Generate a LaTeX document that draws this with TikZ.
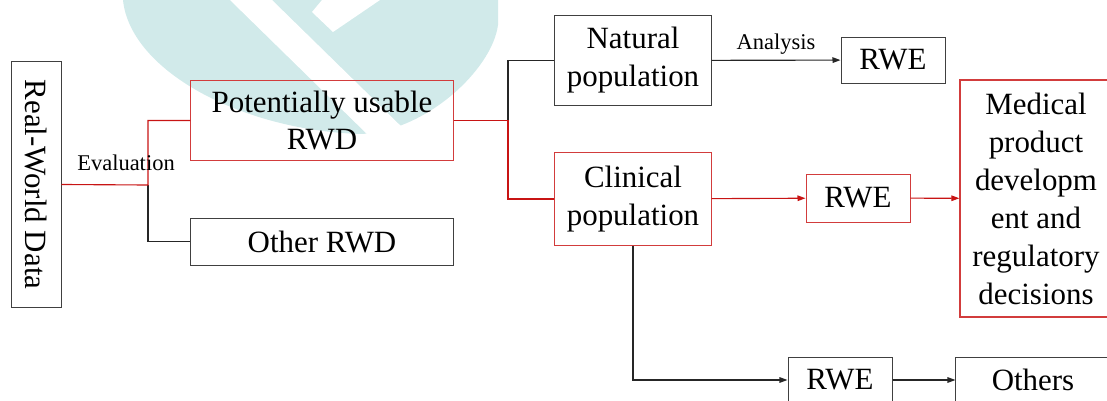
\documentclass[tikz,border=0pt]{standalone}
\usepackage{fontspec}
\setmainfont{Liberation Serif}
\usepackage{xcolor}
\usepackage{tikz}
\usetikzlibrary{arrows.meta}
\definecolor{rwdred}{RGB}{200,20,20}
\definecolor{boxred}{RGB}{210,60,60}
\definecolor{wmteal}{RGB}{209,234,234}
\tikzset{
  box/.style    = {rectangle, draw=black!75, line width=0.7pt, align=center,
                   inner sep=0pt, font=\fontsize{22}{27}\selectfont},
  redbox/.style = {box, draw=boxred},
  lbl/.style    = {font=\fontsize{16}{19}\selectfont, inner sep=1pt},
  ln/.style     = {line width=0.8pt, draw=black!85},
  redln/.style  = {line width=0.8pt, draw=rwdred},
  fl/.style     = {ln, -{Triangle[length=2mm,width=1.4mm]}},
  redfl/.style  = {redln, -{Triangle[length=2mm,width=1.4mm]}},
}

\begin{document}
\begin{tikzpicture}[x=0.025cm, y=-0.025cm]
    \useasboundingbox (0,0) rectangle (1107,401);
    % watermark in the back
    \fill[wmteal] (123,0) .. controls (130,70) and (240,130) .. (360,134)
          .. controls (425,132) and (492,70) .. (498,25) -- (498,0) -- cycle;
    \fill[white] (230,0) -- (272,0) -- (410,135) -- (368,135) -- cycle;
    \fill[white] (322,0) -- (312,12) -- (333,32) -- (380,0) -- cycle;

    % boxes
    \node[box, rotate=-90, minimum width=6.125cm, minimum height=1.25cm] (realworld) at (36,184.5) {Real-World Data};
    \node[redbox, minimum width=6.55cm, minimum height=1.975cm] (usable) at (322,120.5) {Potentially usable\\RWD};
    \node[box, minimum width=6.55cm, minimum height=1.175cm] (otherrwd) at (322,241.5) {Other RWD};
    \node[box, minimum width=3.9cm, minimum height=2.225cm] (natural) at (633,60.5) {Natural\\population};
    \node[box, minimum width=2.6cm, minimum height=1.15cm] (rweA) at (893,60) {RWE};
    \node[redbox, minimum width=3.9cm, minimum height=2.3cm] (clinical) at (633,199) {Clinical\\population};
    \node[redbox, minimum width=2.6cm, minimum height=1.2cm] (rweB) at (858,198) {RWE};
    \node[redbox, line width=0.9pt, minimum width=3.8cm, minimum height=5.925cm] (medical) at (1036,198.5)
          {Medical\\product\\developm\\ent and\\regulatory\\decisions};
    \node[box, minimum width=2.6cm, minimum height=1.15cm] (rweC) at (840,380) {RWE};
    \node[box, minimum width=3.85cm, minimum height=1.15cm] (others) at (1033,380) {Others};

    % connectors
    \coordinate (evalsplit) at (148,185);
    \coordinate (popsplit) at (508,120.5);
    \draw[ln] (evalsplit) |- (otherrwd.west);
    \draw[redln] (realworld.north) -- (evalsplit) |- (usable.west);
    \node[lbl] (evallbl) at (126,163) {Evaluation};
    \draw[ln] (popsplit) |- (natural.west);
    \draw[redln] (usable.east) -- (popsplit) |- (clinical.west);
    \draw[fl] (natural) -- node[lbl, above=3pt] (analysislbl) {Analysis} (rweA);
    \draw[redfl] (clinical) -- (rweB);
    \draw[redfl] (rweB) -- (medical);
    \draw[fl] (clinical.south) |- (rweC);
    \draw[fl] (rweC) -- (others);
\end{tikzpicture}
\end{document}
